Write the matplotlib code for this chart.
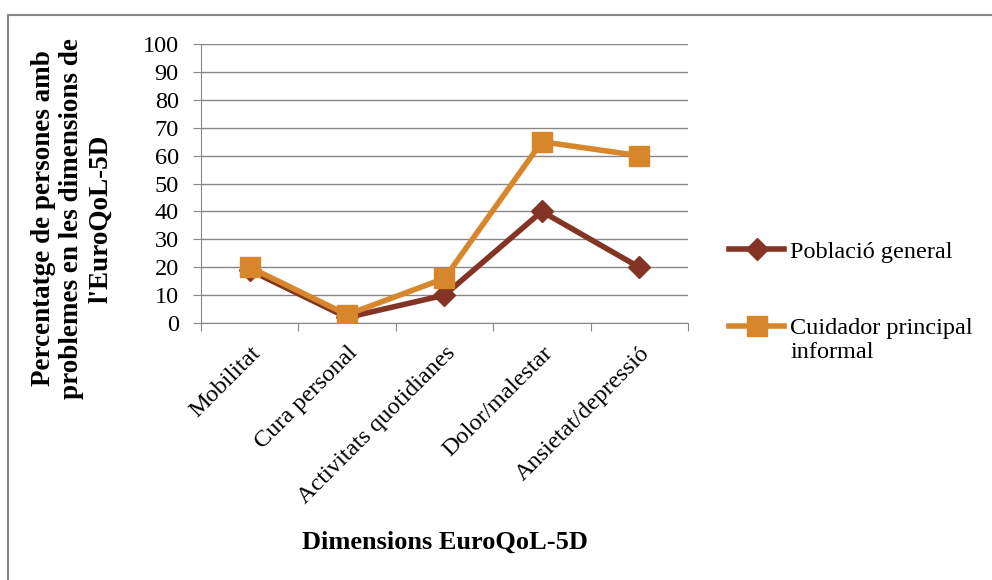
import matplotlib.pyplot as plt
from matplotlib.patches import Rectangle

# dimensions and percentages
dimensions = ['Mobilitat', 'Cura personal', 'Activitats quotidianes', 'Dolor/malestar', 'Ansietat/depressió']
poblacio_general = [19, 2, 10, 40, 20]
cuidador_principal = [20, 3, 16, 65, 60]
yticks = list(range(0, 101, 10))

plt.rcParams['font.family'] = ['Liberation Serif', 'DejaVu Serif']
fs = 17.5

fig = plt.figure(figsize=(9.92, 5.8), dpi=100)
ax = fig.add_axes([0.2026, 0.443, 0.4909, 0.481])

# outer chart frame (right and bottom edges run off the picture)
fig.patches.append(Rectangle((0.008, -0.05), 1.1, 1.024, transform=fig.transFigure,
                             fill=False, edgecolor='#888888', linewidth=1.5))

x = list(range(len(dimensions)))
ax.plot(x, poblacio_general, color='#843424', linewidth=4, marker='D', markersize=11,
        label='Població general', zorder=3)
ax.plot(x, cuidador_principal, color='#D8862B', linewidth=4, marker='s', markersize=14,
        label='Cuidador principal', zorder=4)

ax.set_xlim(-0.5, len(dimensions) - 0.5)
ax.set_ylim(0, 100)
ax.set_yticks(yticks)
ax.set_xticks([i - 0.5 for i in range(len(dimensions) + 1)])
ax.set_xticklabels([])
ax.set_xticks(x, minor=True)
ax.set_xticklabels(dimensions, minor=True, rotation=45, ha='right', rotation_mode='anchor', fontsize=fs)
ax.tick_params(axis='x', which='minor', length=0, pad=14)
ax.tick_params(axis='x', which='major', length=6, direction='out', color='#888888')
ax.tick_params(axis='y', length=6, direction='out', color='#888888', labelsize=fs, pad=10)

ax.grid(axis='y', color='#888888', linewidth=1.0)
ax.set_axisbelow(True)
for side in ['top', 'right']:
    ax.spines[side].set_visible(False)
for side in ['left', 'bottom']:
    ax.spines[side].set_color('#888888')

ax.set_ylabel("Percentatge de persones amb\nproblemes en les dimensions de\nl'EuroQoL-5D",
              fontsize=19.5, fontweight='bold', linespacing=1.2, va='center')
ax.yaxis.set_label_coords(-0.265, 0.375)
ax.set_xlabel('Dimensions EuroQoL-5D', fontsize=19, fontweight='bold')
ax.xaxis.set_label_coords(0.5, -0.745)

leg = ax.legend(loc='upper left', bbox_to_anchor=(1.065, 0.33), frameon=False, fontsize=fs,
                handlelength=2.25, labelspacing=2.25, handletextpad=0.25, borderaxespad=0)
fig.canvas.draw()
# second line of the carer label sits under the legend text
txt = leg.get_texts()[1]
bb = txt.get_window_extent().transformed(fig.transFigure.inverted())
fig.text(bb.x0, bb.y0 - 0.004, 'informal', fontsize=fs, va='top', ha='left')

fig.savefig('out.png', dpi=100)
